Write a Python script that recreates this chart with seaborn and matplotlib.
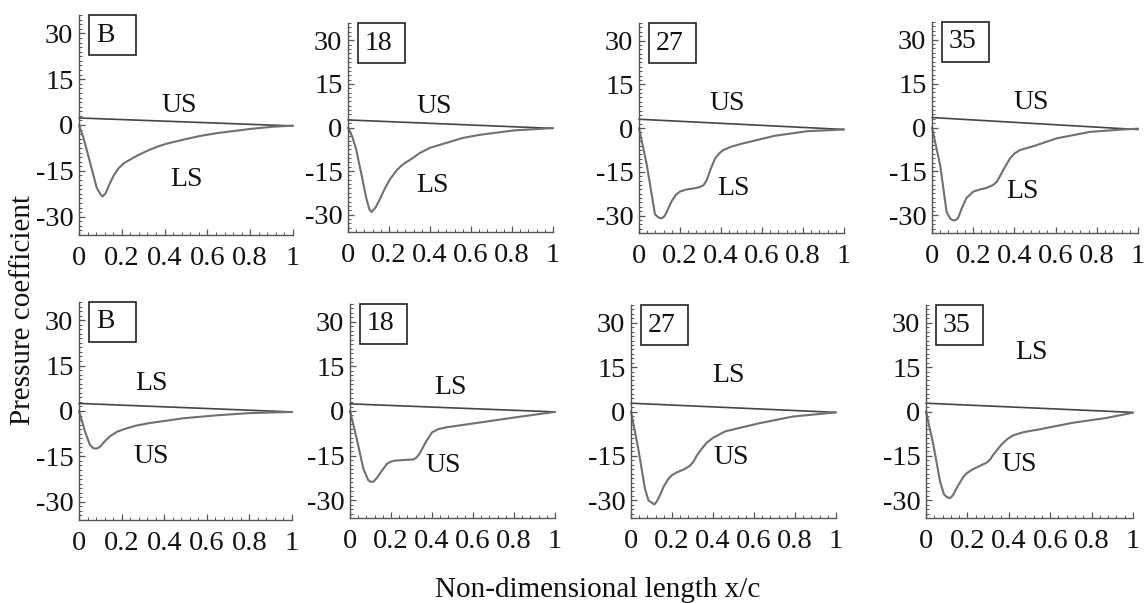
import numpy as np
import pandas as pd
import matplotlib
matplotlib.use("Agg")
import matplotlib.pyplot as plt
from matplotlib.patches import Rectangle
from matplotlib.ticker import MultipleLocator, FixedLocator
import seaborn as sns

# ---------------- data ----------------
panel_names = ["B", "18", "27", "35", "B", "18", "27", "35"]

# top row: flat line = US, curve = LS ; bottom row: flat line = LS, curve = US
x_top_B = [0, 0.02, 0.036, 0.06, 0.083, 0.1, 0.11, 0.125, 0.137, 0.16, 0.183, 0.21, 0.254, 0.29, 0.33, 0.37, 0.41, 0.5, 0.565, 0.65, 0.72, 0.8, 0.9, 1.0]
cp_top_B = [0, -4, -8.1, -14.5, -20.6, -22.6, -23.4, -22.3, -20.2, -16.8, -14.3, -12.5, -10.7, -9.4, -8.1, -7.0, -6.1, -4.6, -3.6, -2.6, -2.0, -1.3, -0.6, -0.2]

x_top_18 = [0, 0.02, 0.04, 0.065, 0.09, 0.105, 0.115, 0.135, 0.156, 0.18, 0.205, 0.24, 0.27, 0.31, 0.35, 0.4, 0.48, 0.56, 0.645, 0.81, 1.0]
cp_top_18 = [0, -3, -7.6, -16, -24.6, -28.3, -29.1, -27.5, -24.6, -21, -17.8, -14.5, -12.6, -10.8, -8.8, -7.0, -5.3, -3.6, -2.5, -1.0, -0.2]

x_top_27 = [0, 0.037, 0.06, 0.078, 0.095, 0.11, 0.125, 0.14, 0.16, 0.18, 0.2, 0.23, 0.26, 0.295, 0.315, 0.33, 0.35, 0.37, 0.39, 0.41, 0.45, 0.5, 0.66, 0.82, 1.0]
cp_top_27 = [0, -12.2, -22, -29.6, -30.7, -31, -30.2, -28, -25, -22.9, -21.8, -21.1, -20.8, -20.3, -19.6, -17.9, -14, -10.6, -8.8, -7.6, -6.4, -5.4, -2.7, -1.1, -0.5]

x_top_35 = [0, 0.04, 0.071, 0.09, 0.103, 0.115, 0.127, 0.145, 0.167, 0.2, 0.235, 0.265, 0.295, 0.314, 0.33, 0.346, 0.379, 0.4, 0.427, 0.5, 0.605, 0.767, 0.9, 1.0]
cp_top_35 = [0, -13, -28.9, -31.2, -31.7, -31.6, -30.8, -27.5, -24.1, -21.9, -21.1, -20.6, -19.7, -18.6, -16.6, -14.5, -10.5, -8.9, -7.7, -6.2, -3.7, -1.5, -0.8, -0.4]

x_bot_B = [0, 0.028, 0.05, 0.065, 0.075, 0.088, 0.1, 0.12, 0.146, 0.18, 0.225, 0.27, 0.33, 0.41, 0.49, 0.65, 0.8, 1.0]
cp_bot_B = [0, -6.7, -11, -12.2, -12.4, -12.3, -11.7, -10.1, -8.3, -6.8, -5.7, -4.8, -4.0, -3.2, -2.4, -1.4, -0.7, -0.3]

x_bot_18 = [0, 0.033, 0.065, 0.089, 0.1, 0.114, 0.13, 0.146, 0.18, 0.2, 0.22, 0.26, 0.31, 0.325, 0.34, 0.37, 0.4, 0.43, 0.47, 0.63, 0.8, 1.0]
cp_bot_18 = [0, -9.4, -19.4, -23.3, -23.8, -23.8, -22.6, -21, -17.8, -17.0, -16.7, -16.5, -16.3, -15.6, -14.3, -10.4, -7.2, -6.1, -5.5, -3.9, -2.2, -0.3]

x_bot_27 = [0, 0.036, 0.068, 0.085, 0.1, 0.114, 0.127, 0.141, 0.16, 0.182, 0.2, 0.223, 0.26, 0.288, 0.305, 0.32, 0.345, 0.37, 0.4, 0.46, 0.63, 0.79, 1.0]
cp_bot_27 = [0, -12.8, -26.1, -30, -30.8, -31.4, -30.3, -28.3, -25.3, -22.8, -21.5, -20.6, -19.5, -18.3, -16.9, -15, -12.6, -10.5, -8.9, -6.7, -3.9, -1.7, -0.3]

x_bot_35 = [0, 0.035, 0.068, 0.087, 0.1, 0.116, 0.13, 0.148, 0.18, 0.2, 0.229, 0.26, 0.293, 0.31, 0.325, 0.35, 0.37, 0.395, 0.42, 0.47, 0.55, 0.71, 0.87, 1.0]
cp_bot_35 = [0, -11, -23.7, -28, -28.9, -29.3, -28.3, -25.9, -22.1, -20.7, -19.4, -18.4, -17.3, -16.2, -14.6, -12.4, -10.8, -9.2, -8.1, -7.0, -6, -3.8, -2.2, -0.4]

x_flat = [0, 1.0]
cp_flat_start = [2.3, 2.6, 3.0, 3.4, 2.5, 2.4, 2.8, 2.8]
cp_flat_end = [-0.3, -0.3, -0.5, -0.7, -0.3, -0.3, -0.3, -0.3]

curve_x = [x_top_B, x_top_18, x_top_27, x_top_35, x_bot_B, x_bot_18, x_bot_27, x_bot_35]
curve_cp = [cp_top_B, cp_top_18, cp_top_27, cp_top_35, cp_bot_B, cp_bot_18, cp_bot_27, cp_bot_35]

flat_label = ["US"] * 4 + ["LS"] * 4
curve_label = ["LS"] * 4 + ["US"] * 4

x_ticks = [0, 0.2, 0.4, 0.6, 0.8, 1.0]
x_tick_labels = ["0", "0.2", "0.4", "0.6", "0.8", "1"]
y_ticks = [-30, -15, 0, 15, 30]
y_tick_labels = ["-30", "-15", "0", "15", "30"]

# ---------------- layout (pixels: left, top, right, bottom) ----------------
W, H = 1148, 603
rects_px = [
    (79, 15, 293, 235), (348, 23, 553, 232), (639, 23, 844, 233), (932, 22, 1138, 233),
    (79, 302, 292, 520), (350, 304, 555, 518), (631, 305, 836, 518), (926, 305, 1133, 518),
]
flat_text_pos = [(0.47, 6.5), (0.42, 7.4), (0.43, 8.5), (0.48, 8.5),
                 (0.34, 9.0), (0.49, 7.8), (0.475, 12.2), (0.51, 19.8)]
curve_text_pos = [(0.5, -17.9), (0.41, -20.0), (0.46, -20.7), (0.44, -21.9),
                  (0.34, -14.9), (0.455, -18.3), (0.49, -15.5), (0.45, -18.0)]

sns.set_theme(style="ticks")
plt.rcParams["font.family"] = ["Liberation Serif", "DejaVu Serif"]

fig = plt.figure(figsize=(W / 100, H / 100), dpi=100)

flat_color = "#454545"
curve_color = "#707070"
spine_color = "#555555"
text_color = "#111111"

for i in range(8):
    l, t, r, b = rects_px[i]
    ax = fig.add_axes([l / W, 1 - b / H, (r - l) / W, (b - t) / H])
    df_flat = pd.DataFrame({"x": x_flat, "cp": [cp_flat_start[i], cp_flat_end[i]]})
    df_curve = pd.DataFrame({"x": curve_x[i], "cp": curve_cp[i]})
    sns.lineplot(data=df_flat, x="x", y="cp", ax=ax, color=flat_color, lw=1.2, clip_on=False)
    sns.lineplot(data=df_curve, x="x", y="cp", ax=ax, color=curve_color, lw=1.5, clip_on=False)
    ax.set_xlim(0, 1)
    ax.set_ylim(-36, 36)
    ax.set_xlabel("")
    ax.set_ylabel("")
    sns.despine(ax=ax)
    for s in ("left", "bottom"):
        ax.spines[s].set_color(spine_color)
        ax.spines[s].set_linewidth(1.0)
    ax.xaxis.set_major_locator(FixedLocator(x_ticks))
    ax.set_xticklabels(x_tick_labels)
    ax.yaxis.set_major_locator(FixedLocator(y_ticks))
    ax.set_yticklabels(y_tick_labels)
    ax.xaxis.set_minor_locator(MultipleLocator(0.04))
    ax.yaxis.set_minor_locator(MultipleLocator(1.5))
    ax.tick_params(axis="both", which="major", direction="in", length=4, width=0.9,
                   color=spine_color, labelsize=20.5, labelcolor=text_color)
    ax.tick_params(axis="both", which="minor", direction="in", length=2, width=0.7,
                   color=spine_color)
    ax.tick_params(axis="x", which="major", pad=8)
    ax.tick_params(axis="y", which="major", pad=4)
    ax.patch.set_alpha(0)

    # name box
    bw = 47 / (r - l)
    bh = 40 / (b - t)
    bx = 10 / (r - l)
    ax.add_patch(Rectangle((bx, 1 - bh), bw, bh, transform=ax.transAxes,
                           fill=False, edgecolor="#222222", lw=1.2, clip_on=False))
    ax.text(bx + 7 / (r - l), 1 - bh / 2, panel_names[i], transform=ax.transAxes,
            ha="left", va="center", fontsize=20, color=text_color)

    fx, fy = flat_text_pos[i]
    cx, cy = curve_text_pos[i]
    ax.text(fx, fy, flat_label[i], ha="center", va="center", fontsize=20, color=text_color)
    ax.text(cx, cy, curve_label[i], ha="center", va="center", fontsize=20, color=text_color)

fig.text(23 / W, 1 - 310 / H, "Pressure coefficient", rotation=90, ha="center", va="center",
         fontsize=21, color=text_color)
fig.text(598 / W, 1 - 597 / H, "Non-dimensional length x/c", ha="center", va="baseline",
         fontsize=21, color=text_color)

fig.savefig("out.png", dpi=100)
